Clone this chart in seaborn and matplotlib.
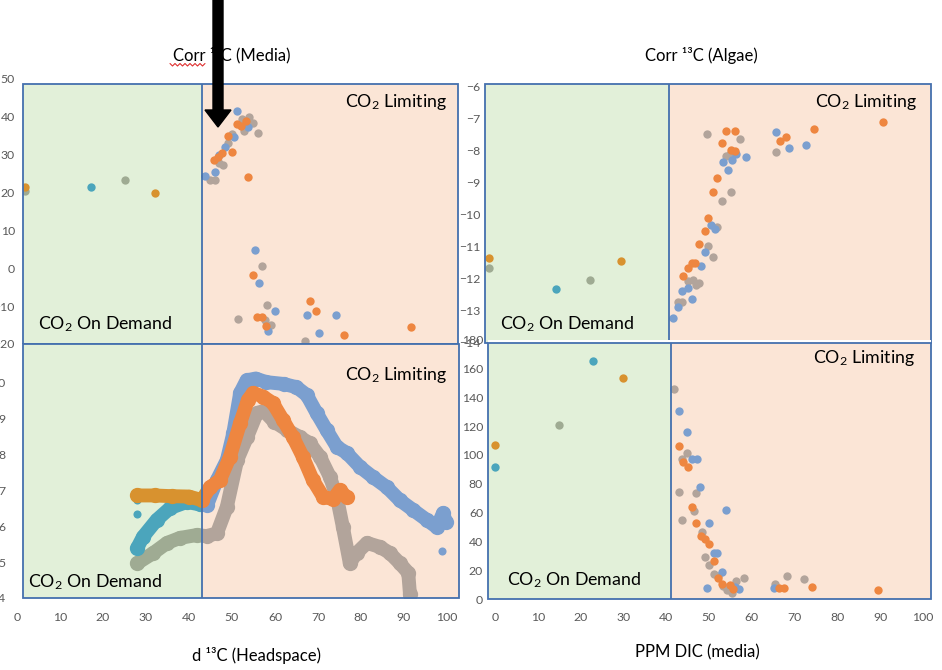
import matplotlib
matplotlib.use("Agg")
import matplotlib.pyplot as plt
import seaborn as sns
from matplotlib.patches import Rectangle, FancyArrow

sns.set_theme(style="white")
plt.rcParams["font.family"] = ["Lato", "DejaVu Sans"]
plt.rcParams["mathtext.fontset"] = "custom"
plt.rcParams["mathtext.rm"] = "Lato"
plt.rcParams["mathtext.it"] = "Lato:italic"
plt.rcParams["mathtext.bf"] = "Lato:bold"

# ---------------- data ----------------
# Top-left: Corr 13C (Media)
tl_blue_x = [17.2, 43.7, 46.0, 47.0, 48.4, 50.6, 51.2, 53.8, 55.3, 56.3, 60.1, 58.4, 67.4, 70.2, 74.3]
tl_blue_y = [21.3, 24.2, 25.3, 29.8, 32.0, 34.5, 41.3, 37.3, 4.7, -4.0, -11.4, -16.6, -12.4, -17.2, -12.4]
tl_orange_x = [1.9, 32.1, 45.9, 46.8, 47.8, 49.0, 50.1, 51.1, 52.1, 53.3, 53.8, 55.0, 55.9, 57.1, 57.9, 68.1, 69.5, 76.0, 91.6]
tl_orange_y = [21.4, 19.9, 28.5, 29.4, 30.4, 34.9, 30.7, 38.0, 37.4, 38.8, 24.1, -1.7, -12.9, -12.9, -15.3, -8.6, -11.4, -17.5, -15.6]
tl_gray_x = [1.9, 25.2, 44.9, 46.0, 47.0, 48.0, 49.2, 50.1, 52.3, 52.9, 54.0, 55.0, 56.0, 57.1, 58.1, 51.5, 57.7, 59.0, 67.0]
tl_gray_y = [20.4, 23.2, 23.2, 23.2, 27.8, 27.1, 32.9, 35.3, 39.2, 36.1, 39.9, 38.2, 35.7, 0.5, -9.7, -13.5, -13.7, -15.1, -19.3]

# Top-right: Corr 13C (Algae)
tr_blue_x = [15.6, 42.9, 44.2, 45.2, 46.4, 47.5, 49.6, 50.6, 51.8, 52.8, 54.8, 55.8, 56.9, 57.8, 60.0, 67.0, 70.1, 74.2]
tr_blue_y = [-12.31, -13.24, -12.9, -12.37, -12.28, -12.63, -11.59, -11.17, -10.33, -10.46, -8.36, -8.6, -8.3, -8.1, -8.2, -7.43, -7.92, -7.82]
tr_orange_x = [0.0, 30.8, 45.4, 46.5, 47.5, 48.2, 49.1, 50.4, 51.3, 52.4, 53.4, 54.5, 55.5, 57.6, 56.5, 57.6, 68.1, 69.5, 76.0, 92.0]
tr_orange_y = [-11.37, -11.44, -11.92, -11.66, -11.5, -11.5, -10.93, -10.51, -10.11, -9.3, -8.86, -7.75, -7.38, -7.38, -7.99, -8.0, -7.7, -7.57, -7.33, -7.11]
tr_gray_x = [0.0, 23.6, 44.2, 45.2, 46.4, 47.7, 48.3, 49.0, 51.2, 52.4, 53.3, 54.5, 56.5, 50.9, 58.6, 55.5, 56.4, 67.0]
tr_gray_y = [-11.66, -12.03, -12.74, -12.74, -12.07, -12.03, -12.2, -12.15, -10.97, -11.31, -10.4, -9.56, -9.3, -7.48, -7.64, -8.18, -8.1, -8.04]

# Bottom-right: vs PPM DIC (media)
br_blue_x = [0.1, 23.0, 43.1, 44.9, 46.0, 47.1, 48.0, 53.9, 50.0, 51.2, 51.9, 53.0, 56.1, 57.0, 49.5, 65.1]
br_blue_y = [91.4, 165.5, 130.3, 115.7, 97.4, 97.4, 78.0, 62.0, 52.5, 31.7, 31.7, 18.8, 8.0, 7.2, 7.4, 7.4]
br_orange_x = [0.1, 30.0, 43.1, 43.9, 45.0, 46.0, 47.0, 48.1, 49.1, 50.0, 51.2, 52.0, 53.0, 55.0, 55.7, 66.3, 67.5, 74.1, 89.4]
br_orange_y = [107.2, 153.5, 106.0, 95.4, 91.4, 63.7, 52.5, 43.8, 41.9, 38.0, 26.2, 14.8, 10.2, 9.7, 7.2, 7.4, 7.4, 8.6, 6.3]
br_gray_x = [15.0, 41.8, 44.9, 43.8, 43.1, 47.0, 46.4, 43.8, 48.3, 49.1, 50.0, 51.2, 52.1, 53.4, 56.4, 58.2, 54.3, 55.5, 65.5, 68.2, 72.3]
br_gray_y = [120.6, 146.0, 101.2, 97.0, 74.3, 73.4, 60.9, 54.9, 46.5, 29.4, 23.4, 17.2, 16.0, 9.0, 12.7, 14.8, 6.3, 4.2, 10.2, 16.0, 13.7]

# Bottom-left: vs d13C (Headspace), dense traces
bl_blue_x = [28.0, 29.3, 32.5, 35.6, 39.5, 42.5, 44.2, 46.5, 48.8, 50.3, 51.9, 53.4, 55.5, 58.0, 62.0, 65.0, 67.4,
             69.7, 72.0, 74.4, 76.7, 79.8, 82.8, 86.0, 89.0, 92.2, 95.3, 97.6, 99.1, 99.8]
bl_blue_y = [5.4, 5.7, 6.17, 6.5, 6.67, 6.6, 6.58, 7.28, 7.83, 8.58, 9.7, 10.05, 10.1, 10.0, 9.95, 9.86, 9.64,
             9.14, 8.67, 8.2, 8.03, 7.64, 7.36, 7.08, 6.72, 6.44, 6.17, 5.97, 6.36, 6.1]
bl_blue_dot_x = [28.0, 28.0, 98.8]
bl_blue_dot_y = [6.72, 6.33, 5.3]
bl_orange_x = [28.0, 32.0, 36.0, 40.0, 43.0, 44.9, 47.2, 49.5, 51.9, 53.7, 54.9, 57.2, 59.5, 61.9, 64.2, 66.5,
               68.8, 71.2, 73.5, 75.1, 76.7]
bl_orange_y = [6.85, 6.85, 6.83, 6.82, 6.72, 7.08, 7.28, 7.92, 8.86, 9.5, 9.7, 9.6, 9.42, 8.94, 8.47, 7.92,
               7.28, 6.81, 6.75, 7.0, 6.8]
bl_gray_x = [28.0, 31.7, 34.9, 37.9, 41.8, 44.2, 46.5, 48.8, 51.2, 53.5, 55.8, 57.4, 59.8, 62.8, 65.8, 68.1,
             70.5, 72.8, 74.4, 75.8, 77.4, 79.0, 81.4, 84.4, 86.7, 89.0, 91.0, 91.4]
bl_gray_y = [4.97, 5.25, 5.53, 5.67, 5.75, 5.72, 5.8, 6.53, 7.83, 8.47, 9.14, 9.2, 8.9, 8.67, 8.47, 8.3,
             7.92, 7.36, 6.8, 5.97, 4.97, 5.25, 5.53, 5.42, 5.25, 4.97, 4.7, 4.1]

zone_labels = ["CO$_2$ On Demand", "CO$_2$ Limiting"]

# ---------------- styling ----------------
W, H = 942, 670
GREEN_BG, PINK_BG = "#E2F0D9", "#FBE5D6"
EDGE = "#4470AE"
TICK_C = "#595959"
COL_PINK = {"blue": "#7B9FCF", "orange": "#EE8640", "gray": "#B2A49B"}
COL_GREEN = {"blue": "#4BA5BC", "orange": "#D8922F", "gray": "#9FAB93"}

fig = plt.figure(figsize=(W / 100, H / 100), dpi=100)


def make_ax(px0, px1, py_top, py_bot):
    return fig.add_axes([px0 / W, 1 - py_bot / H, (px1 - px0) / W, (py_bot - py_top) / H])


def setup(ax, xlim, ylim, box, b, yticks, xticks, ypad, xpad):
    ax.set_xlim(*xlim)
    ax.set_ylim(*ylim)
    for s in ax.spines.values():
        s.set_visible(False)
    x0, x1, y0, y1 = box
    ax.add_patch(Rectangle((x0, y0), b - x0, y1 - y0, fc=GREEN_BG, ec="none", zorder=0))
    ax.add_patch(Rectangle((b, y0), x1 - b, y1 - y0, fc=PINK_BG, ec="none", zorder=0))
    ax.add_patch(Rectangle((x0, y0), x1 - x0, y1 - y0, fc="none", ec=EDGE, lw=1.3, zorder=6, clip_on=False))
    ax.vlines(b, y0, y1, color=EDGE, lw=1.3, zorder=6)
    ax.set_yticks(yticks)
    ax.set_xticks(xticks)
    ax.tick_params(axis="y", length=0, pad=ypad, labelsize=8.8, labelcolor=TICK_C)
    ax.tick_params(axis="x", length=0, pad=xpad, labelsize=8.8, labelcolor=TICK_C)
    ax.set_xlabel("")
    ax.set_ylabel("")


def zone_draw(ax, kind, x, y, key, b, box, **kw):
    x0, x1, y0, y1 = box
    for cx0, cx1, pal in [(x0, b, COL_GREEN), (b, x1, COL_PINK)]:
        clip = Rectangle((cx0, y0), cx1 - cx0, y1 - y0, transform=ax.transData)
        if kind == "scatter":
            n = len(ax.collections)
            sns.scatterplot(x=x, y=y, color=pal[key], ax=ax, legend=False, linewidth=0, zorder=3, **kw)
            for art in ax.collections[n:]:
                art.set_clip_path(clip)
        else:
            n = len(ax.lines)
            sns.lineplot(x=x, y=y, color=pal[key], ax=ax, sort=False, estimator=None, legend=False, zorder=3,
                         marker="o", markersize=11, markeredgewidth=0, **kw)
            for art in ax.lines[n:]:
                art.set_solid_capstyle("round")
                art.set_solid_joinstyle("round")
                art.set_clip_path(clip)


# Top-left
ax_tl = make_ax(17, 458, 78.5, 344)
box_tl = (1.4, 102.6, -20, 48.6)
setup(ax_tl, (0, 102.6), (-20, 50), box_tl, 43, list(range(-20, 51, 10)), [], 1.5, 0)
for key, xs, ys in [("gray", tl_gray_x, tl_gray_y), ("blue", tl_blue_x, tl_blue_y), ("orange", tl_orange_x, tl_orange_y)]:
    zone_draw(ax_tl, "scatter", xs, ys, key, 43, box_tl, s=36)

# Bottom-left
ax_bl = make_ax(17, 459, 344, 598)
box_bl = (1.4, 102.8, 4, 11.06)
setup(ax_bl, (0, 102.8), (4, 11.06), box_bl, 43, list(range(4, 11)), list(range(0, 101, 10)), 8.6, 10)
zone_draw(ax_bl, "line", bl_gray_x, bl_gray_y, "gray", 43, box_bl, lw=10)
zone_draw(ax_bl, "line", bl_blue_x, bl_blue_y, "blue", 43, box_bl, lw=10)
zone_draw(ax_bl, "scatter", bl_blue_dot_x, bl_blue_dot_y, "blue", 43, box_bl, s=34)
zone_draw(ax_bl, "line", bl_orange_x, bl_orange_y, "orange", 43, box_bl, lw=10)

# Top-right
ax_tr = make_ax(485, 931, 84, 342.7)
box_tr = (-0.93, 103.3, -14, -5.92)
setup(ax_tr, (-0.93, 103.3), (-14, -5.92), box_tr, 42.1, list(range(-14, -5)), [], 3.6, 0)
for key, xs, ys in [("gray", tr_gray_x, tr_gray_y), ("blue", tr_blue_x, tr_blue_y), ("orange", tr_orange_x, tr_orange_y)]:
    zone_draw(ax_tr, "scatter", xs, ys, key, 42.1, box_tr, s=36)

# Bottom-right
ax_br = make_ax(488, 931, 339.8, 599)
box_br = (-1.64, 101.9, 0, 177.8)
setup(ax_br, (-1.64, 101.9), (0, 180), box_br, 41.1, list(range(0, 181, 20)), list(range(0, 101, 10)), 3.6, 9.5)
for key, xs, ys in [("gray", br_gray_x, br_gray_y), ("blue", br_blue_x, br_blue_y), ("orange", br_orange_x, br_orange_y)]:
    zone_draw(ax_br, "scatter", xs, ys, key, 41.1, box_br, s=36)

# Overlay for texts and arrow (pixel coordinates)
ov = fig.add_axes([0, 0, 1, 1], zorder=20)
ov.set_xlim(0, W)
ov.set_ylim(H, 0)
ov.axis("off")
ov.patch.set_alpha(0)

title_kw = dict(ha="center", va="center", fontsize=12, color="black")
ov.text(232, 55, "Corr ¹³C (Media)", **title_kw)
ov.text(701, 55, "Corr ¹³C (Algae)", **title_kw)
ov.text(256, 656, "d ¹³C (Headspace)", **title_kw)
ov.text(697, 652, "PPM DIC (media)", **title_kw)

zk = dict(fontsize=12.8, color="black", va="center")
ov.text(447, 102, zone_labels[1], ha="right", **zk)
ov.text(38, 324, zone_labels[0], ha="left", **zk)
ov.text(447, 375, zone_labels[1], ha="right", **zk)
ov.text(28, 582, zone_labels[0], ha="left", **zk)
ov.text(917, 102, zone_labels[1], ha="right", **zk)
ov.text(500, 324, zone_labels[0], ha="left", **zk)
ov.text(915, 358, zone_labels[1], ha="right", **zk)
ov.text(507, 580, zone_labels[0], ha="left", **zk)

# spell-check squiggle under "Corr"
sq_x = [170 + 2.5 * i for i in range(15)]
sq_y = [63.5 if i % 2 == 0 else 66 for i in range(15)]
ov.plot(sq_x, sq_y, color="#E03030", lw=0.8)

# black arrow
ov.add_patch(FancyArrow(218, -2, 0, 129, width=10, head_width=26, head_length=17,
                        length_includes_head=True, color="black"))

fig.savefig("out.png", dpi=100)
